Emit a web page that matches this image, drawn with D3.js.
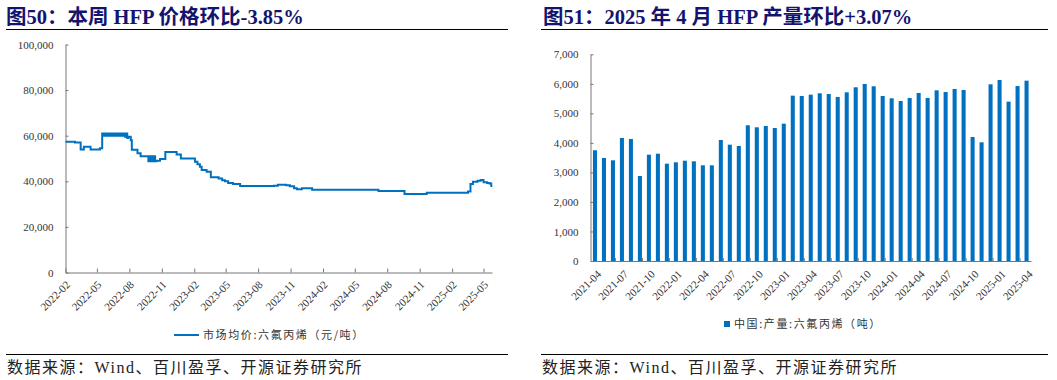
<!DOCTYPE html>
<head>
	<meta charset="utf-8">
	<script src="https://d3js.org/d3.v7.min.js"></script>
	<style>
		body { margin: 0; background: #fff; }
		.title { font-family: "Liberation Serif", "Noto Sans CJK SC"; font-size: 20.5px; font-weight: bold; fill: #14146e; }
		.source { font-family: "Liberation Serif", "Noto Sans CJK SC"; font-size: 16px; letter-spacing: 1.5px; fill: #222; }
		.axis text { font-family: "Liberation Serif", "Noto Sans CJK SC"; font-size: 11px; fill: #333; }
		.axis path, .axis line { stroke: #777; }
		.legend { font-family: "Noto Sans CJK SC"; font-size: 11px; letter-spacing: 1.6px; fill: #333; }
	</style>
</head>
<body>
	<script>
		// price of HFP, yuan/ton (step series)
		var priceData = [
			["2022-02-01", 57400], ["2022-02-28", 57000], ["2022-03-16", 54000], ["2022-03-25", 55200],
			["2022-04-13", 54000], ["2022-05-10", 54500],
			["2022-05-16", 61000], ["2022-05-19", 60000], ["2022-05-22", 61000], ["2022-05-25", 60000],
			["2022-05-28", 61000], ["2022-06-01", 60000], ["2022-06-04", 61000], ["2022-06-08", 60000],
			["2022-06-11", 61000], ["2022-06-15", 60000], ["2022-06-18", 61000], ["2022-06-22", 60000],
			["2022-06-25", 61000], ["2022-06-29", 60000], ["2022-07-02", 61000], ["2022-07-06", 60000],
			["2022-07-09", 61000], ["2022-07-13", 60000], ["2022-07-16", 61000], ["2022-07-20", 59500],
			["2022-07-23", 61000], ["2022-07-26", 59000], ["2022-07-29", 59500],
			["2022-08-05", 58000], ["2022-08-08", 53800], ["2022-08-24", 52300], ["2022-09-02", 51000],
			["2022-09-24", 48800], ["2022-09-29", 51000], ["2022-10-04", 48800], ["2022-10-08", 51000],
			["2022-10-13", 48800], ["2022-10-17", 49000], ["2022-10-27", 49800], ["2022-11-11", 52800],
			["2022-12-13", 51800], ["2022-12-25", 50000], ["2023-02-03", 48600], ["2023-02-10", 47500],
			["2023-02-17", 46400], ["2023-02-22", 45000], ["2023-03-08", 44200], ["2023-03-20", 41800],
			["2023-04-11", 41200], ["2023-04-21", 40500], ["2023-04-29", 40000], ["2023-05-08", 39200],
			["2023-05-22", 38800], ["2023-06-11", 37900], ["2023-09-15", 38100], ["2023-09-26", 38500],
			["2023-10-19", 38300], ["2023-10-30", 37800], ["2023-11-11", 37000], ["2023-11-19", 36500],
			["2023-12-03", 37000], ["2024-01-01", 36300], ["2024-07-07", 35800], ["2024-09-19", 34400],
			["2024-11-21", 35000], ["2025-03-18", 35500], ["2025-03-25", 38800], ["2025-04-01", 39800],
			["2025-04-14", 40200], ["2025-04-23", 40600], ["2025-05-01", 39600], ["2025-05-11", 39200],
			["2025-05-18", 39000], ["2025-05-23", 37500]
		];
		var priceTicks = ["2022-02", "2022-05", "2022-08", "2022-11", "2023-02", "2023-05", "2023-08",
			"2023-11", "2024-02", "2024-05", "2024-08", "2024-11", "2025-02", "2025-05"];
		var priceYTicks = [0, 20000, 40000, 60000, 80000, 100000];

		// monthly HFP output in China, tons
		var outMonths = [
			"2021-04", "2021-05", "2021-06", "2021-07", "2021-08", "2021-09", "2021-10", "2021-11", "2021-12",
			"2022-01", "2022-02", "2022-03", "2022-04", "2022-05", "2022-06", "2022-07", "2022-08", "2022-09",
			"2022-10", "2022-11", "2022-12", "2023-01", "2023-02", "2023-03", "2023-04", "2023-05", "2023-06",
			"2023-07", "2023-08", "2023-09", "2023-10", "2023-11", "2023-12", "2024-01", "2024-02", "2024-03",
			"2024-04", "2024-05", "2024-06", "2024-07", "2024-08", "2024-09", "2024-10", "2024-11", "2024-12",
			"2025-01", "2025-02", "2025-03", "2025-04"
		];
		var outValues = [
			3750, 3490, 3410, 4166, 4132, 2879, 3600, 3634, 3296,
			3343, 3397, 3376, 3241, 3241, 4098, 3939, 3895, 4596,
			4528, 4572, 4505, 4650, 5599, 5589, 5633, 5679, 5656,
			5555, 5713, 5883, 5995, 5917, 5589, 5510, 5419, 5521,
			5690, 5521, 5781, 5724, 5826, 5792, 4200, 4020, 5984,
			6131, 5397, 5925, 6107
		];
		var outTicks = ["2021-04", "2021-07", "2021-10", "2022-01", "2022-04", "2022-07", "2022-10", "2023-01",
			"2023-04", "2023-07", "2023-10", "2024-01", "2024-04", "2024-07", "2024-10", "2025-01", "2025-04"];
		var outYTicks = [0, 1000, 2000, 3000, 4000, 5000, 6000, 7000];

		var blue = "#0070c0";
		var parseDay = d3.timeParse("%Y-%m-%d");
		var parseMonth = d3.timeParse("%Y-%m");
		var fmt = d3.format(",");

		var svg = d3.select("body").append("svg")
			.attr("width", 1057)
			.attr("height", 380);

		// titles, rules, sources
		svg.append("text").attr("class", "title").attr("x", 6).attr("y", 24)
			.text("图50：本周 HFP 价格环比-3.85%");
		svg.append("text").attr("class", "title").attr("x", 543).attr("y", 24)
			.text("图51：2025 年 4 月 HFP 产量环比+3.07%");
		[[6, 508], [541, 1048]].forEach(r => {
			svg.append("line").attr("x1", r[0]).attr("x2", r[1]).attr("y1", 29.5).attr("y2", 29.5)
				.attr("stroke", "#000").attr("stroke-width", 1);
			svg.append("line").attr("x1", r[0]).attr("x2", r[1]).attr("y1", 354.5).attr("y2", 354.5)
				.attr("stroke", "#000").attr("stroke-width", 1);
			svg.append("text").attr("class", "source").attr("x", r[0] + 1).attr("y", 373)
				.text("数据来源：Wind、百川盈孚、开源证券研究所");
		});

		// left: price line
		var x1 = d3.scaleTime()
			.domain([parseDay("2022-02-01"), parseDay("2025-05-25")])
			.range([65.5, 492]);
		var y1 = d3.scaleLinear().domain([0, 100000]).range([272.5, 44.5]);

		var gx1 = svg.append("g").attr("class", "axis")
			.attr("transform", "translate(0,272.5)")
			.call(d3.axisBottom(x1).tickValues(priceTicks.map(parseMonth))
				.tickFormat(d3.timeFormat("%Y-%m")).tickSizeInner(-4).tickSizeOuter(0));
		gx1.selectAll("text")
			.attr("text-anchor", "end")
			.attr("transform", "translate(0,8) rotate(-45)")
			.attr("dx", "0").attr("dy", "0.35em");
		svg.append("g").attr("class", "axis")
			.attr("transform", "translate(65.5,0)")
			.call(d3.axisLeft(y1).tickValues(priceYTicks).tickFormat(fmt).tickSizeInner(-3).tickSizeOuter(0).tickPadding(12));

		var line = d3.line()
			.x(d => x1(parseDay(d[0])))
			.y(d => y1(d[1]))
			.curve(d3.curveStepAfter);
		svg.append("path").datum(priceData)
			.attr("fill", "none").attr("stroke", blue).attr("stroke-width", 2)
			.attr("d", line);

		// left legend
		svg.append("line").attr("x1", 174).attr("x2", 199).attr("y1", 335).attr("y2", 335)
			.attr("stroke", blue).attr("stroke-width", 2);
		svg.append("text").attr("class", "legend").attr("x", 203).attr("y", 339)
			.text("市场均价:六氟丙烯（元/吨）");

		// right: output bars
		var x2 = d3.scaleBand().domain(outMonths).range([590.5, 1031]).paddingInner(0.55).paddingOuter(0.27);
		var y2 = d3.scaleLinear().domain([0, 7000]).range([261, 54.3]);

		svg.selectAll("rect.bar").data(outValues).enter().append("rect")
			.attr("class", "bar")
			.attr("x", (d, i) => x2(outMonths[i]))
			.attr("y", d => y2(d))
			.attr("width", x2.bandwidth())
			.attr("height", d => y2(0) - y2(d))
			.attr("fill", blue);

		var gx2 = svg.append("g").attr("class", "axis")
			.attr("transform", "translate(0,261)")
			.call(d3.axisBottom(x2).tickValues(outTicks).tickSize(0));
		gx2.selectAll("text")
			.attr("text-anchor", "end")
			.attr("transform", "translate(2,9) rotate(-45)")
			.attr("dx", "0").attr("dy", "0.35em");
		// small inward ticks at band edges
		gx2.selectAll("line.edge").data(outTicks.slice(1)).enter().append("line")
			.attr("class", "edge")
			.attr("x1", d => x2(d) - x2.step() * x2.paddingInner() / 2 - x2.step() * 0.22)
			.attr("x2", d => x2(d) - x2.step() * x2.paddingInner() / 2 - x2.step() * 0.22)
			.attr("y1", 0).attr("y2", -3)
			.attr("stroke", "#999");
		svg.append("g").attr("class", "axis")
			.attr("transform", "translate(590.5,0)")
			.call(d3.axisLeft(y2).tickValues(outYTicks).tickFormat(fmt).tickSizeInner(-3).tickSizeOuter(0).tickPadding(12));

		// right legend
		svg.append("rect").attr("x", 724).attr("y", 321).attr("width", 6).attr("height", 6).attr("fill", blue);
		svg.append("text").attr("class", "legend").attr("x", 734).attr("y", 328)
			.text("中国:产量:六氟丙烯（吨）");
	</script>
</body>
</html>
